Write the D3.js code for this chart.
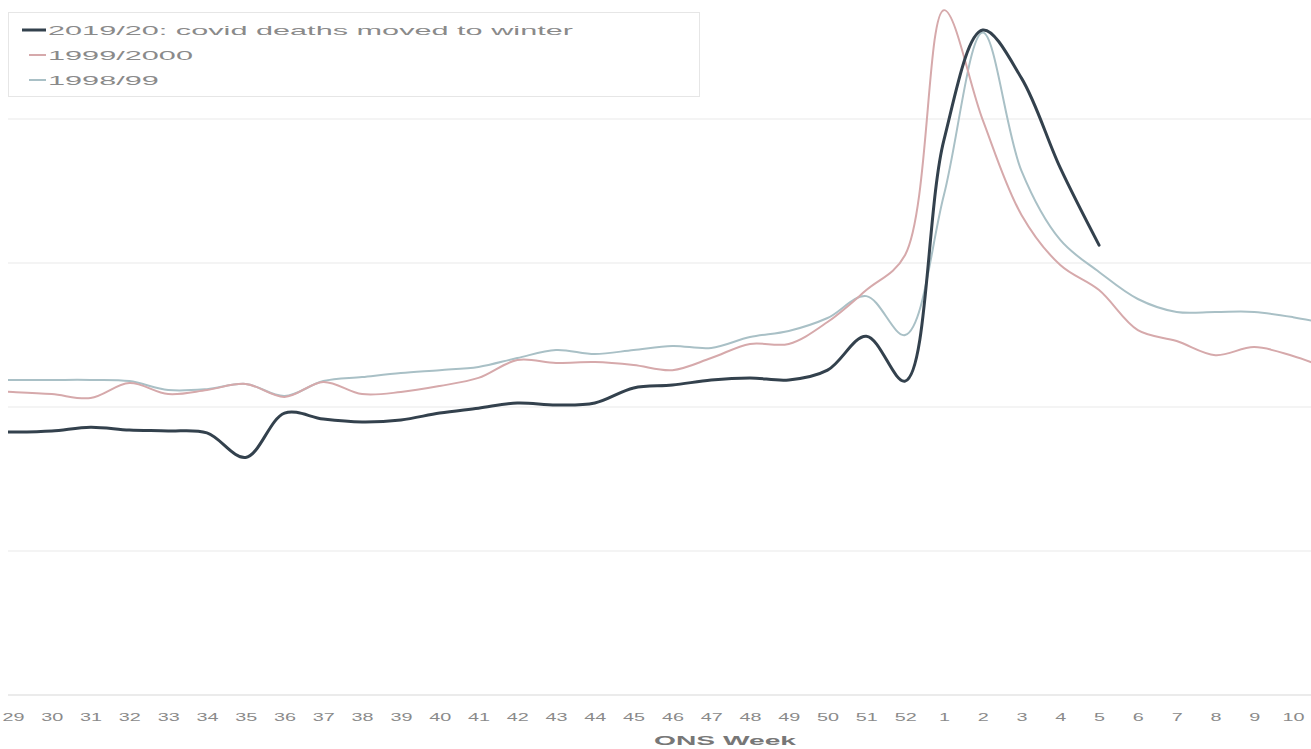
<!DOCTYPE html>
<html>
<head>
<meta charset="utf-8">
<script src="https://cdn.jsdelivr.net/npm/d3@7"></script>
<style>
  html, body { margin: 0; padding: 0; background: #ffffff; }
  svg { display: block; font-family: "Liberation Sans", Arial, sans-serif; }
</style>
</head>
<body>
<svg id="chart" width="1311" height="749"></svg>
<script>
// ONS weeks, July through March (28 and 11 run off the plot edges)
const weeks = [28, 29, 30, 31, 32, 33, 34, 35, 36, 37, 38, 39, 40, 41, 42, 43, 44, 45, 46, 47, 48, 49, 50, 51, 52,
               1, 2, 3, 4, 5, 6, 7, 8, 9, 10, 11];
const tickWeeks = [29, 30, 31, 32, 33, 34, 35, 36, 37, 38, 39, 40, 41, 42, 43, 44, 45, 46, 47, 48, 49, 50, 51, 52,
                   1, 2, 3, 4, 5, 6, 7, 8, 9, 10];

// Weekly deaths, England & Wales
const deaths2019 = [9130, 9130, 9170, 9300, 9200, 9170, 9100, 8250, 9790, 9580, 9480, 9550, 9790, 9960, 10140, 10070, 10140,
                    10660, 10760, 10940, 11010, 10940, 11280, 12460, 10900,
                    19270, 23090, 21420, 18300, 15620, null, null, null, null, null, null];
const deaths1999 = [10560, 10520, 10450, 10310, 10830, 10450, 10590, 10800, 10350, 10870, 10450, 10520, 10730, 11010, 11630,
                    11530, 11560, 11460, 11280, 11700, 12190, 12190, 12950, 14060, 15280,
                    23780, 19970, 16670, 14930, 14060, 12670, 12290, 11800, 12080, 11770, 11280];
const deaths1998 = [10940, 10940, 10940, 10940, 10900, 10590, 10620, 10800, 10380, 10900, 11040, 11180, 11280, 11390, 11700,
                    11980, 11840, 11980, 12120, 12050, 12430, 12640, 13090, 13850, 12500,
                    17360, 23000, 18200, 15800, 14690, 13750, 13300, 13300, 13300, 13120, 12850];
const gridValues = [0, 5000, 10000, 15000, 20000];

const seriesNames = ["2019/20: covid deaths moved to winter", "1999/2000", "1998/99"];
const seriesColors = ["#33414d", "#d6a9ab", "#a9c0c6"];
const seriesWidths = [3, 2, 2];
const seriesValues = [deaths2019, deaths1999, deaths1998];

const W = 1311, H = 749;
const plot = { left: 8, right: 1311, top: 0, bottom: 695 };
const firstX = 13, lastX = 1293;   // centre of the week 29 and week 10 labels
const legendStretch = 2.36;        // wide, horizontally stretched lettering
const tickStretch = 1.8;
const titleStretch = 2.35;

const svg = d3.select("#chart");

const x = d3.scalePoint().domain(tickWeeks.map(String)).range([firstX, lastX]);
const step = x.step();
// index positions for the full run of weeks, including the off-edge ones
const xi = i => firstX + (i - 1) * step;

const y = d3.scaleLinear().domain([0, 20000]).range([plot.bottom, 119]);

// gridlines
svg.append("g")
  .selectAll("line")
  .data(gridValues)
  .join("line")
  .attr("x1", plot.left).attr("x2", plot.right)
  .attr("y1", d => y(d)).attr("y2", d => y(d))
  .attr("stroke", d => d === 0 ? "#e4e4e4" : "#f0f0f0")
  .attr("stroke-width", 1.5);

// clip for the lines
svg.append("clipPath").attr("id", "plotclip")
  .append("rect")
  .attr("x", plot.left).attr("y", plot.top)
  .attr("width", plot.right - plot.left).attr("height", plot.bottom - plot.top);

const line = d3.line()
  .defined(d => d[1] !== null)
  .x(d => xi(d[0]))
  .y(d => y(d[1]))
  .curve(d3.curveCatmullRom.alpha(0.5));

const lineLayer = svg.append("g").attr("clip-path", "url(#plotclip)");
// draw the historical seasons first, the 2019/20 line on top
[2, 1, 0].forEach(k => {
  const pts = seriesValues[k].map((v, i) => [i, v]);
  lineLayer.append("path")
    .datum(pts)
    .attr("fill", "none")
    .attr("stroke", seriesColors[k])
    .attr("stroke-width", seriesWidths[k])
    .attr("stroke-linejoin", "round")
    .attr("stroke-linecap", "round")
    .attr("d", line);
});

// x axis
const xAxis = d3.axisBottom(x).tickSize(0).tickPadding(0);
const gx = svg.append("g")
  .attr("transform", `translate(0, ${plot.bottom})`)
  .call(xAxis);
gx.select(".domain").remove();
gx.selectAll("text")
  .attr("y", 26)
  .attr("dy", 0)
  .attr("fill", "#8a8a8a")
  .attr("font-size", 11)
  .attr("transform", `scale(${tickStretch},1)`);

svg.append("text")
  .attr("transform", `translate(725, 745) scale(${titleStretch},1)`)
  .attr("text-anchor", "middle")
  .attr("fill", "#777")
  .attr("font-size", 12)
  .attr("font-weight", "bold")
  .text("ONS Week");

// legend
const legend = svg.append("g");
legend.append("rect")
  .attr("x", 8.5).attr("y", 12.5)
  .attr("width", 691).attr("height", 84)
  .attr("fill", "#ffffff")
  .attr("stroke", "#e6e6e6");

const rowY = [30, 55, 80];
seriesNames.forEach((name, k) => {
  const g = legend.append("g").attr("transform", `translate(0, ${rowY[k]})`);
  g.append("line")
    .attr("x1", k === 0 ? 22 : 29).attr("x2", 46)
    .attr("y1", 0).attr("y2", 0)
    .attr("stroke", seriesColors[k])
    .attr("stroke-width", seriesWidths[k]);
  g.append("text")
    .attr("transform", `translate(48, 5) scale(${legendStretch},1)`)
    .attr("fill", "#8a8a8a")
    .attr("font-size", 13)
    .text(name);
});
</script>
</body>
</html>
